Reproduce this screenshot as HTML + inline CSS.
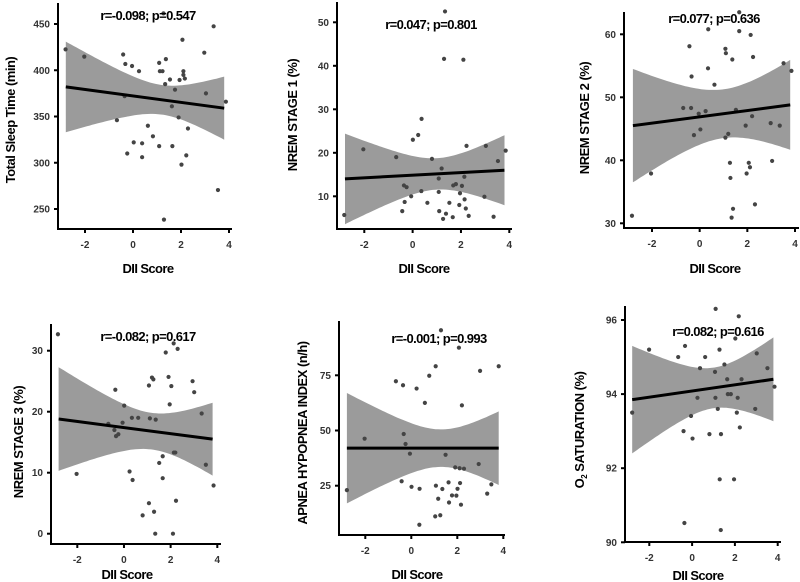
<!DOCTYPE html>
<html><head><meta charset="utf-8"><style>
html,body{margin:0;padding:0;background:#fff;}
svg{display:block;font-family:"Liberation Sans",sans-serif;}
</style></head><body>
<svg id="chart" width="800" height="582" viewBox="0 0 800 582" xmlns="http://www.w3.org/2000/svg"></svg>
<script>
// ---- data: DII score (x) and outcomes (y) per panel ----
const xTicks = [-2, 0, 2, 4];
const tslX = [-2.81,-2.03,-0.41,-0.32,-0.04,0.25,-0.35,-0.67,0.62,0.83,0.03,0.38,-0.24,0.38,1.09,1.09,1.12,1.23,1.37,1.34,1.54,1.27,2.06,2.1,2.1,2.16,1.94,1.75,1.62,1.9,2.29,1.64,2.22,2.02,1.29,2.97,3.04,3.36,3.54,3.87];
const tslY = [422.6,414.7,417,406.8,404.6,399,372,346,340,328.6,322,321,310,306,318,408,399,399,412,385,390,461.5,433,399,395,391,389.5,379,361,349,337,318,308,298,238.5,419,375,447.5,270.5,366];
const tslTicks = [250,300,350,400,450];
const tslFit = [382, 359];
const tslBand = [256, 134, 1.2];

const n1X = [-2.83,-2.04,-0.68,-0.36,-0.25,-0.33,-0.43,-0.06,0.01,0.23,0.36,0.37,0.61,0.8,1.08,1.08,1.1,1.2,1.26,1.34,1.3,1.38,1.52,1.66,1.68,1.79,1.96,1.93,2.04,2.1,2.14,2.15,2.2,2.23,2.32,2.97,3.03,3.35,3.53,3.85];
const n1Y = [5.7,20.8,19.0,12.5,12.1,8.7,6.6,10.0,23.0,24.1,11.2,27.8,8.5,18.6,14.1,11.0,6.6,16.4,4.8,52.5,41.6,6.0,8.5,5.2,12.5,12.8,10.7,8.0,12.4,41.4,14.5,9.3,7.2,21.6,5.5,9.9,21.6,5.3,18.1,20.5];
const n1Ticks = [10,20,30,40,50];
const n1Fit = [14.0, 16.0];
const n1Band = [13, 6.6, 1.0];

const n2X = [-2.84,-2.04,-0.69,-0.43,-0.34,-0.36,-0.24,-0.04,0.03,0.25,0.36,0.35,0.62,1.08,1.1,1.08,1.2,1.27,1.29,1.34,1.37,1.52,1.66,1.66,1.4,1.93,1.97,2.06,2.11,2.14,2.2,2.24,2.32,2.98,3.04,3.36,3.52,3.85];
const n2Y = [31.2,37.9,48.3,58.1,53.3,48.3,44.0,47.4,44.9,47.8,60.8,54.6,52.0,57.7,57.0,43.6,44.2,39.6,37.2,30.9,56.0,48.0,63.5,60.5,32.3,45.5,37.9,39.6,38.9,59.9,47.0,56.4,33.0,45.9,39.9,45.5,55.4,54.2];
const n2Ticks = [30,40,50,60];
const n2Fit = [45.5, 48.8];
const n2Band = [15, 4.57, 1.0];

const n3X = [-2.83,-2.03,-0.67,-0.37,-0.41,-0.34,-0.24,-0.06,0.01,0.24,0.34,0.37,0.61,0.8,1.07,1.07,1.11,1.2,1.26,1.29,1.34,1.36,1.51,1.66,1.66,1.79,1.91,1.96,2.03,2.1,2.13,2.14,2.2,2.23,2.3,2.94,3.01,3.33,3.51,3.84];
const n3Y = [32.7,9.8,18.0,23.6,17.0,16.0,16.3,18.2,21.0,10.2,19.0,8.8,19.0,3.0,24.3,5.0,18.9,25.6,25.3,3.6,0,18.7,11.6,12.7,9.1,29.7,25.7,21.2,24.2,0,31.2,13.3,13.3,5.4,30.3,25.0,23.2,19.7,11.3,7.9];
const n3Ticks = [0,10,20,30];
const n3Fit = [18.8, 15.5];
const n3Band = [9, 3.95, 1.2];

const ahiX = [-2.8,-2.03,-0.67,-0.36,-0.33,-0.25,-0.42,-0.06,0.01,0.23,0.36,0.35,0.59,0.78,1.06,1.07,1.04,1.17,1.26,1.29,1.35,1.49,1.62,1.64,1.77,1.91,1.96,2.01,2.07,2.12,2.1,2.16,2.2,2.29,2.93,2.99,3.3,3.48,3.8];
const ahiY = [23.0,46.3,72.3,70.5,48.4,43.9,27.0,39.5,24.5,69.0,23.6,7.3,62.5,74.8,79.1,25.0,11.1,19.1,11.6,95.4,23.5,39.0,26.5,17.4,20.6,33.3,20.5,23.6,87.5,26.2,32.9,16.4,61.4,32.7,34.8,77.0,21.4,25.6,79.1];
const ahiTicks = [25,50,75];
const ahiFit = [42, 42];
const ahiBand = [72, 32.9, 1.3];

const o2X = [-2.8,-2.01,-0.65,-0.33,-0.4,-0.36,-0.05,0.02,0.25,0.37,0.61,0.81,1.07,1.09,1.1,1.2,1.28,1.29,1.34,1.35,1.51,1.64,1.67,1.81,1.96,2.02,2.09,2.13,2.18,2.23,2.31,2.95,3.02,3.52,3.85];
const o2Y = [93.5,95.2,95.0,95.3,93.0,90.52,93.41,92.8,93.9,94.7,95.0,92.92,94.6,93.9,96.3,93.6,95.2,91.7,90.33,92.92,94.8,94.4,94.0,94.0,91.7,95.5,93.5,93.9,96.1,93.1,94.4,93.6,95.1,94.7,94.2];
const o2Ticks = [90,92,94,96];
const o2Fit = [93.85, 94.4];
const o2Band = [0.3, 0.125, 1.0];

const bandRange = [-2.8, 3.8];

// ---- layout (pixel geometry per panel) ----
const panels = [
 {name:'total-sleep-time', xs:tslX, ys:tslY, ticks:tslTicks, fit:tslFit, band:tslBand,
  px:[85,229], py:[209,24], tv:[250,450], ax:{l:58,b:229,t:3,r:232},
  stat:'r=-0.098; p=0.547', sp:[148,20], yt:'Total Sleep Time (min)', ytp:[10,120], xtp:[148,273]},
 {name:'nrem-stage-1', xs:n1X, ys:n1Y, ticks:n1Ticks, fit:n1Fit, band:n1Band,
  px:[364.3,509.3], py:[196.3,22.3], tv:[10,50], ax:{l:337,b:229,t:2,r:512},
  stat:'r=0.047; p=0.801', sp:[431,29], yt:'NREM  STAGE 1 (%)', ytp:[292,115], xtp:[424,273]},
 {name:'nrem-stage-2', xs:n2X, ys:n2Y, ticks:n2Ticks, fit:n2Fit, band:n2Band,
  px:[652,795], py:[223.3,34.3], tv:[30,60], ax:{l:624,b:228,t:12,r:799},
  stat:'r=0.077; p=0.636', sp:[714,23], yt:'NREM  STAGE 2 (%)', ytp:[584,118], xtp:[715,273]},
 {name:'nrem-stage-3', xs:n3X, ys:n3Y, ticks:n3Ticks, fit:n3Fit, band:n3Band,
  px:[77.3,217.3], py:[533.7,350.7], tv:[0,30], ax:{l:51,b:544,t:324,r:221},
  stat:'r=-0.082; p=0.617', sp:[148,341], yt:'NREM  STAGE 3 (%)', ytp:[18,442], xtp:[127,579]},
 {name:'apnea-hypopnea-index', xs:ahiX, ys:ahiY, ticks:ahiTicks, fit:ahiFit, band:ahiBand,
  px:[365.3,503.3], py:[485.7,375.3], tv:[25,75], ax:{l:339,b:535,t:321,r:505},
  stat:'r=-0.001; p=0.993', sp:[439,343], yt:'APNEA HYPOPNEA INDEX (n/h)', ytp:[302,433], xtp:[417,579]},
 {name:'o2-saturation', xs:o2X, ys:o2Y, ticks:o2Ticks, fit:o2Fit, band:o2Band,
  px:[649.3,777.7], py:[542.3,320], tv:[90,96], ax:{l:625,b:542,t:306,r:781},
  stat:'r=0.082; p=0.616', sp:[718,336], yt:'O2', ytp:[579,430], xtp:[698,580]}
];

const NS = 'http://www.w3.org/2000/svg';
const svg = document.getElementById('chart');
function mk(tag, attrs, parent){
  const e = document.createElementNS(NS, tag);
  for (const k in attrs) e.setAttribute(k, attrs[k]);
  (parent||svg).appendChild(e);
  return e;
}

panels.forEach(p => {
  const xS = v => p.px[0] + (v - (-2)) * (p.px[1]-p.px[0]) / 6;
  const yS = v => p.py[0] + (v - p.tv[0]) * (p.py[1]-p.py[0]) / (p.tv[1]-p.tv[0]);
  const g = mk('g', {});
  
  

  // confidence band
  const fitAt = x => p.fit[0] + (x - bandRange[0]) * (p.fit[1]-p.fit[0]) / (bandRange[1]-bandRange[0]);
  const half = x => Math.sqrt(p.band[0] + p.band[1]*(x-p.band[2])*(x-p.band[2]));
  let up = [], lo = [];
  for (let i=0;i<=60;i++){
    const x = bandRange[0] + (bandRange[1]-bandRange[0])*i/60;
    up.push(xS(x).toFixed(1)+','+yS(fitAt(x)+half(x)).toFixed(1));
    lo.unshift(xS(x).toFixed(1)+','+yS(fitAt(x)-half(x)).toFixed(1));
  }
  const band = mk('polygon', {points: up.concat(lo).join(' '), fill:'#9b9b9b'}, g);
  
  

  // points
  p.xs.forEach((xv, i) => {
    const c = mk('circle', {cx:xS(xv), cy:yS(p.ys[i]), r:2.1, fill:'#444'}, g);
    
    
  });

  // regression line
  const ln = mk('line', {x1:xS(bandRange[0]), y1:yS(p.fit[0]), x2:xS(bandRange[1]), y2:yS(p.fit[1]), stroke:'#000', 'stroke-width':3}, g);
  
  

  // axes
  const ya = mk('line', {x1:p.ax.l, y1:p.ax.t, x2:p.ax.l, y2:p.ax.b+1, stroke:'#000', 'stroke-width':2}, g);
  
  
  const xa = mk('line', {x1:p.ax.l-1, y1:p.ax.b, x2:p.ax.r, y2:p.ax.b, stroke:'#000', 'stroke-width':2}, g);
  
  

  xTicks.forEach(t => {
    const x = xS(t);
    mk('line', {x1:x, y1:p.ax.b, x2:x, y2:p.ax.b+4, stroke:'#000', 'stroke-width':2}, g);
    const tl = mk('text', {x:x, y:p.ax.b+19, 'text-anchor':'middle', 'font-size':10, 'font-weight':'bold', fill:'#333'}, g);
    tl.textContent = t;
    
    
  });
  p.ticks.forEach(t => {
    const y = yS(t);
    mk('line', {x1:p.ax.l-4, y1:y, x2:p.ax.l, y2:y, stroke:'#000', 'stroke-width':2}, g);
    const tl = mk('text', {x:p.ax.l-8, y:y+3.5, 'text-anchor':'end', 'font-size':10, 'font-weight':'bold', fill:'#333'}, g);
    tl.textContent = t;
    
    
  });

  // stats annotation
  const st = mk('text', {x:p.sp[0], y:p.sp[1], 'text-anchor':'middle', 'font-size':13, 'font-weight':'bold', 'letter-spacing':'-0.6', fill:'#000'}, g);
  st.textContent = p.stat;
  
  

  // y title
  const yt = mk('text', {x:0, y:0, transform:`translate(${p.ytp[0]+5},${p.ytp[1]}) rotate(-90)`, 'text-anchor':'middle', 'font-size':13, 'font-weight':'bold', 'letter-spacing':'-0.5', fill:'#000'}, g);
  if (p.yt === 'O2') {
    const a = mk('tspan', {}, yt); a.textContent = 'O';
    const b = mk('tspan', {'font-size':8, dy:3}, yt); b.textContent = '2';
    const c = mk('tspan', {dy:-3}, yt); c.textContent = ' SATURATION (%)';
  } else {
    yt.textContent = p.yt;
  }
  
  

  // x title
  const xt = mk('text', {x:p.xtp[0], y:p.xtp[1], 'text-anchor':'middle', 'font-size':13, 'font-weight':'bold', 'letter-spacing':'-0.6', fill:'#000'}, g);
  xt.textContent = 'DII Score';
  
  
});
</script>
</body></html>
